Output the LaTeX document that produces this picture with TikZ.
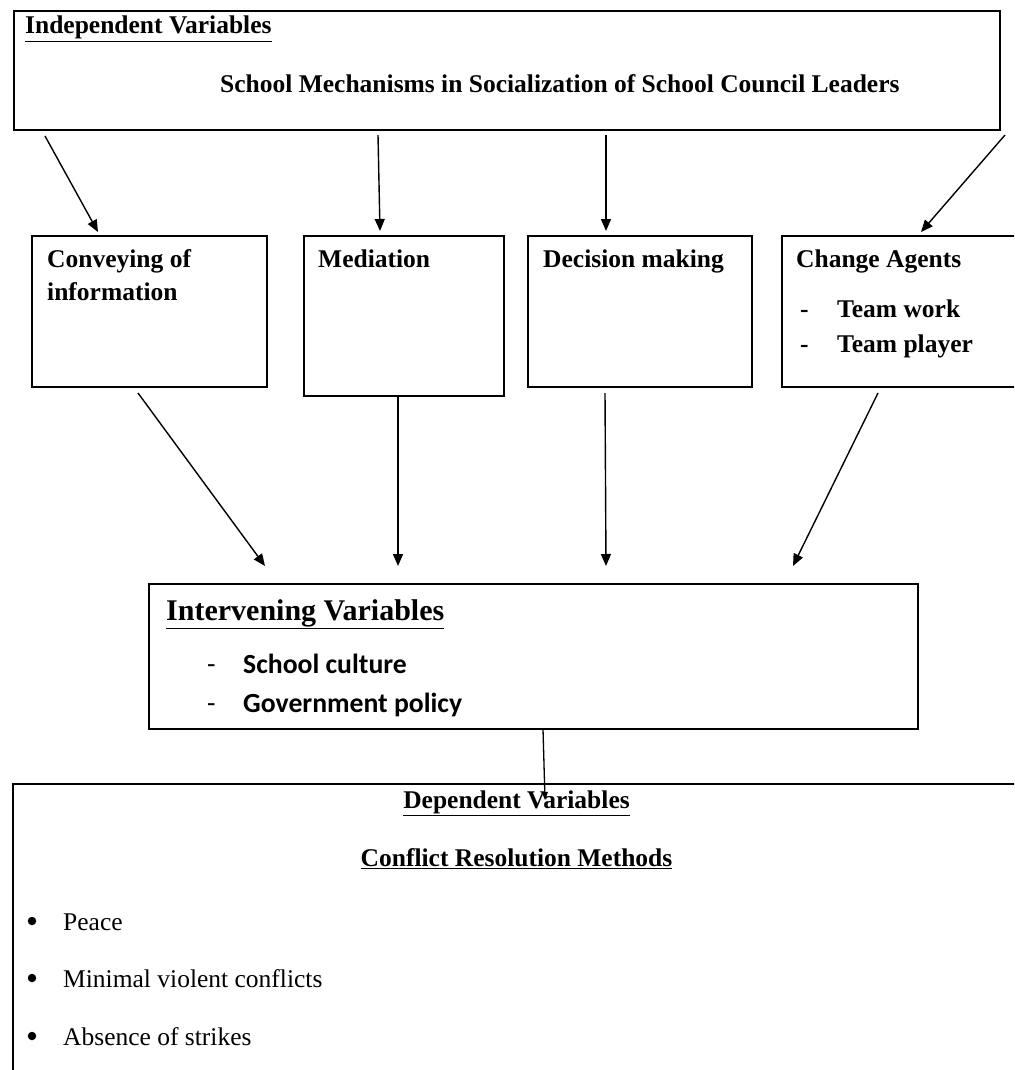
\documentclass[tikz,border=0pt]{standalone}
\usepackage{fontspec}
\setmainfont{Liberation Serif}
\newfontfamily\calib{Carlito}
\usetikzlibrary{arrows.meta}
\begin{document}
\begin{tikzpicture}[x=1pt,y=-1pt,
 box/.style={draw, line width=1.7pt, rectangle, inner sep=0pt, anchor=north west},
 arr/.style={line width=1.4pt, -{Triangle[length=12pt,width=10pt]}},
 bt/.style={anchor=base west, inner sep=0pt, font=\fontsize{25.5}{30}\selectfont\bfseries},
 it/.style={anchor=base west, inner sep=0pt, font=\fontsize{25.5}{30}\selectfont},
 ct/.style={anchor=base, inner sep=0pt, font=\fontsize{25.5}{30}\selectfont\bfseries},
 st/.style={anchor=base west, inner sep=0pt, font=\fontsize{27.7}{32}\selectfont\calib\bfseries},
 bul/.style={circle, fill, inner sep=0pt, minimum size=8.5pt},
]
\useasboundingbox (0,0) rectangle (1014,1070);
\fill[white] (0,0) rectangle (1014,1070);
\clip (0,0) rectangle (1014,1070);
% boxes
\node[box, minimum width=986pt, minimum height=119pt] (top) at (13,10) {};
\node[box, minimum width=235pt, minimum height=151pt] (conv) at (31,235) {};
\node[box, minimum width=200pt, minimum height=160pt] (med) at (303,235) {};
\node[box, minimum width=224pt, minimum height=151pt] (dec) at (527,235) {};
\node[box, minimum width=260pt, minimum height=151pt] (chg) at (781,235) {};
\node[box, minimum width=769pt, minimum height=145pt] (int) at (148,583) {};
\node[box, minimum width=1030pt, minimum height=320pt] (dep) at (12,783) {};
% texts
\node[bt] (indep) at (25,34) {\underline{Independent Variables}};
\node[bt] (smech) at (220,93) {School Mechanisms in Socialization of School Council Leaders};
\node[bt] (conv1) at (47,267) {Conveying of};
\node[bt] (conv2) at (47,300) {information};
\node[bt] (medt) at (318,267) {Mediation};
\node[bt] (dect) at (543,267) {Decision making};
\node[bt] (chgt) at (796,267) {Change Agents};
\node[bt] (dsh1) at (800,317) {-};
\node[bt] (tw) at (837,317) {Team work};
\node[bt] (dsh2) at (800,352) {-};
\node[bt] (tp) at (837,352) {Team player};
\node[anchor=base west, inner sep=0pt, font=\fontsize{30}{34}\selectfont\bfseries] (intt) at (166,620) {\underline{Intervening Variables}};
\node[st, font=\fontsize{27.7}{32}\selectfont\calib] (dsh3) at (207,673) {-};
\node[st] (sc) at (243,673) {School culture};
\node[st, font=\fontsize{27.7}{32}\selectfont\calib] (dsh4) at (207,712) {-};
\node[st] (gp) at (243,712) {Government policy};
\node[ct] (dept) at (516.5,808) {\underline{Dependent Variables}};
\node[ct] (crm) at (516.5,866) {\underline{Conflict Resolution Methods}};
\node[bul] (b1) at (32,921) {};
\node[it] (i1) at (63,930) {Peace};
\node[bul] (b2) at (32,978) {};
\node[it] (i2) at (63,987) {Minimal violent conflicts};
\node[bul] (b3) at (32,1036) {};
\node[it] (i3) at (63,1045) {Absence of strikes};
% arrow end points
\coordinate (a1s) at (45,136);   \coordinate (a1e) at (98,232);
\coordinate (a2s) at (378,135);  \coordinate (a2e) at (380,231);
\coordinate (a3s) at (606,135);  \coordinate (a3e) at (606,231);
\coordinate (a4s) at (1005,135); \coordinate (a4e) at (921,232);
\coordinate (a5s) at (138,393);  \coordinate (a5e) at (265,566);
\coordinate (a6s) at (398,395);  \coordinate (a6e) at (398,566);
\coordinate (a7s) at (605,393);  \coordinate (a7e) at (606,566);
\coordinate (a8s) at (878,393);  \coordinate (a8e) at (793,566);
\coordinate (a9s) at (543,729);  \coordinate (a9e) at (545,800);
\draw[arr] (a1s) -- (a1e);
\draw[arr] (a2s) -- (a2e);
\draw[arr] (a3s) -- (a3e);
\draw[arr] (a4s) -- (a4e);
\draw[arr] (a5s) -- (a5e);
\draw[arr] (a6s) -- (a6e);
\draw[arr] (a7s) -- (a7e);
\draw[arr] (a8s) -- (a8e);
\draw[line width=1.3pt, -{Triangle[length=8pt,width=6pt]}] (a9s) -- (a9e);
\end{tikzpicture}
\end{document}
